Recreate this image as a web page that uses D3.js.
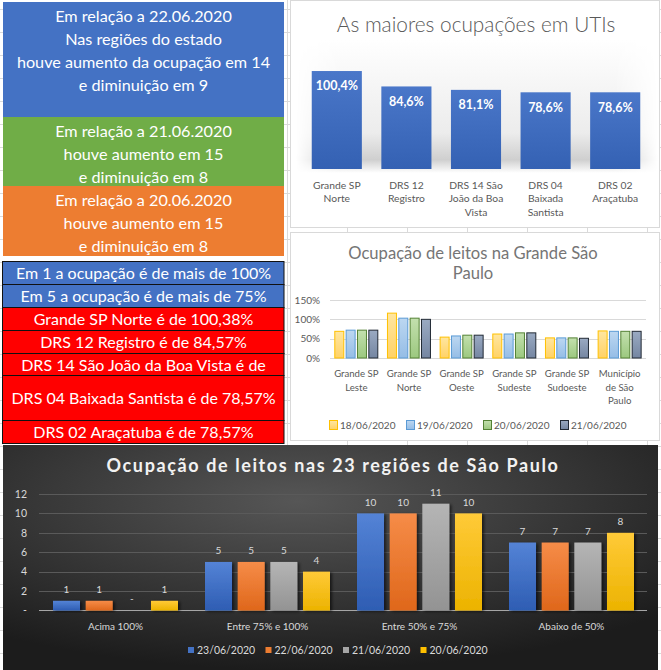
<!DOCTYPE html>
<html>
<head>
<meta charset="utf-8">
<script src="https://cdn.jsdelivr.net/npm/d3@7"></script>
<style>
  body { margin: 0; background: #fff; }
  svg { display: block; font-family: Lato, "Open Sans", sans-serif; }
</style>
</head>
<body>
<svg id="painel"></svg>
<script>
var width = 661,
    height = 670

// textos dos quadros da esquerda
var avisoAzul = ["Em relação a 22.06.2020", "Nas regiões do estado", "houve aumento da ocupação em 14", "e diminuição em 9"];
var avisoVerde = ["Em relação a 21.06.2020", "houve aumento em 15", "e diminuição em 8"];
var avisoLaranja = ["Em relação a 20.06.2020", "houve aumento em 15", "e diminuição em 8"];
var linhasTabela = ["Em 1 a ocupação é de mais de 100%", "Em 5 a ocupação é de mais de 75%",
    "Grande SP Norte é de 100,38%", "DRS 12 Registro é de 84,57%", "DRS 14 São João da Boa Vista é de",
    "DRS 04 Baixada Santista é de 78,57%", "DRS 02 Araçatuba é de 78,57%"];

// maiores ocupações em UTIs
var regioesUti = [["Grande SP", "Norte"], ["DRS 12", "Registro"], ["DRS 14 São", "João da Boa", "Vista"],
    ["DRS 04", "Baixada", "Santista"], ["DRS 02", "Araçatuba"]];
var ocupacaoUti = [100.4, 84.6, 81.1, 78.6, 78.6];
var rotulosUti = ["100,4%", "84,6%", "81,1%", "78,6%", "78,6%"];

// Grande São Paulo
var regioesGsp = [["Grande SP", "Leste"], ["Grande SP", "Norte"], ["Grande SP", "Oeste"],
    ["Grande SP", "Sudeste"], ["Grande SP", "Sudoeste"], ["Município", "de São", "Paulo"]];
var datasGsp = ["18/06/2020", "19/06/2020", "20/06/2020", "21/06/2020"];
var gsp18 = [69, 116, 54, 62, 52, 70];
var gsp19 = [72, 103, 57, 62, 52, 69];
var gsp20 = [72, 103, 59, 65, 52, 69];
var gsp21 = [72, 100, 59, 65, 51, 69];
var ticksGsp = [0, 50, 100, 150];

// 23 regiões
var faixas = ["Acima 100%", "Entre 75% e 100%", "Entre 50% e 75%", "Abaixo de 50%"];
var datasFaixas = ["23/06/2020", "22/06/2020", "21/06/2020", "20/06/2020"];
var f23 = [1, 5, 10, 7];
var f22 = [1, 5, 10, 7];
var f21 = [0, 5, 11, 7];
var f20 = [1, 4, 10, 8];
var ticksFaixas = [0, 2, 4, 6, 8, 10, 12];

var svg = d3.select("svg#painel")
    .attr("width", width)
    .attr("height", height);

var defs = svg.append("defs");

function gradiente(id, topo, base) {
    var g = defs.append("linearGradient").attr("id", id)
        .attr("x1", 0).attr("y1", 0).attr("x2", 0).attr("y2", 1);
    g.append("stop").attr("offset", "0%").attr("stop-color", topo);
    g.append("stop").attr("offset", "100%").attr("stop-color", base);
}

// grade da planilha ao fundo
var grade = svg.append("g").attr("stroke", "#dadada").attr("stroke-width", 1);
d3.range(9, height, 23).forEach(function (y) {
    grade.append("line").attr("x1", 0).attr("x2", width).attr("y1", y + 0.5).attr("y2", y + 0.5);
});
[287, 347, 407, 467, 527, 587, 647].forEach(function (x) {
    grade.append("line").attr("x1", x + 0.5).attr("x2", x + 0.5).attr("y1", 0).attr("y2", height);
});

// ---------- quadros coloridos ----------
function quadro(y0, y1, cor, linhas, primeira) {
    svg.append("rect").attr("x", 3).attr("y", y0).attr("width", 281).attr("height", y1 - y0).attr("fill", cor);
    svg.selectAll(null).data(linhas).enter().append("text")
        .attr("x", 143.5)
        .attr("y", function (d, i) { return primeira + i * 23; })
        .attr("dy", "0.35em")
        .attr("text-anchor", "middle")
        .attr("fill", "#fff")
        .attr("font-size", 16.2)
        .text(function (d) { return d; });
}
quadro(2, 117, "#4472c4", avisoAzul, 16);
quadro(117, 186, "#70ad47", avisoVerde, 131);
quadro(186, 256, "#ed7d31", avisoLaranja, 200);

var limitesTabela = [261, 284, 307, 330, 353, 375, 420, 443];
var coresTabela = ["#4472c4", "#4472c4", "#ff0000", "#ff0000", "#ff0000", "#ff0000", "#ff0000"];
var tabela = svg.append("g");
tabela.selectAll("rect").data(linhasTabela).enter().append("rect")
    .attr("x", 2.5)
    .attr("y", function (d, i) { return limitesTabela[i] + 0.5; })
    .attr("width", 281.5)
    .attr("height", function (d, i) { return limitesTabela[i + 1] - limitesTabela[i]; })
    .attr("fill", function (d, i) { return coresTabela[i]; })
    .attr("stroke", "#111");
tabela.selectAll("text").data(linhasTabela).enter().append("text")
    .attr("x", 143.5)
    .attr("y", function (d, i) { return (limitesTabela[i] + limitesTabela[i + 1]) / 2 + 1; })
    .attr("dy", "0.35em")
    .attr("text-anchor", "middle")
    .attr("fill", "#fff")
    .attr("font-size", 16)
    .text(function (d) { return d; });

// ---------- As maiores ocupações em UTIs ----------
var uti = svg.append("g");
uti.append("rect").attr("x", 290.5).attr("y", 0.5).attr("width", 369).attr("height", 227)
    .attr("fill", "#fff").attr("stroke", "#d9d9d9");

var sombra = defs.append("linearGradient").attr("id", "sombraUti")
    .attr("x1", 0).attr("y1", 0).attr("x2", 0).attr("y2", 1);
sombra.append("stop").attr("offset", "0%").attr("stop-color", "#fff");
sombra.append("stop").attr("offset", "70%").attr("stop-color", "#ececec");
sombra.append("stop").attr("offset", "90%").attr("stop-color", "#cfcfcf");
sombra.append("stop").attr("offset", "100%").attr("stop-color", "#fff");
var fade = defs.append("linearGradient").attr("id", "fadeUti");
fade.append("stop").attr("offset", "0%").attr("stop-color", "#fff").attr("stop-opacity", 0);
fade.append("stop").attr("offset", "12%").attr("stop-color", "#fff").attr("stop-opacity", 1);
fade.append("stop").attr("offset", "88%").attr("stop-color", "#fff").attr("stop-opacity", 1);
fade.append("stop").attr("offset", "100%").attr("stop-color", "#fff").attr("stop-opacity", 0);
defs.append("mask").attr("id", "mascaraUti")
    .append("rect").attr("x", 296).attr("y", 40).attr("width", 362).attr("height", 135).attr("fill", "url(#fadeUti)");
uti.append("rect").attr("x", 296).attr("y", 40).attr("width", 362).attr("height", 133)
    .attr("fill", "url(#sombraUti)").attr("mask", "url(#mascaraUti)");

uti.append("text").attr("x", 476).attr("y", 25).attr("dy", "0.35em")
    .attr("text-anchor", "middle").attr("fill", "#595959").attr("font-size", 20.8).attr("font-weight", 300)
    .text("As maiores ocupações em UTIs");

gradiente("azulUti", "#4a77c9", "#3461b3");
var xUti = d3.scaleBand().domain(d3.range(ocupacaoUti.length)).range([302, 650])
    .paddingInner(0.28).paddingOuter(0.14);
var yUti = d3.scaleLinear().domain([0, 120]).range([169, 51.9]);

uti.selectAll("rect.barra").data(ocupacaoUti).enter().append("rect")
    .attr("class", "barra")
    .attr("x", function (d, i) { return xUti(i); })
    .attr("y", function (d) { return yUti(d); })
    .attr("width", xUti.bandwidth())
    .attr("height", function (d) { return yUti(0) - yUti(d); })
    .attr("fill", "url(#azulUti)");
uti.selectAll("text.rotulo").data(ocupacaoUti).enter().append("text")
    .attr("class", "rotulo")
    .attr("x", function (d, i) { return xUti(i) + xUti.bandwidth() / 2; })
    .attr("y", function (d) { return yUti(d) + 15; })
    .attr("dy", "0.35em")
    .attr("text-anchor", "middle").attr("fill", "#fff")
    .attr("font-size", 12.5).attr("font-weight", "bold")
    .text(function (d, i) { return rotulosUti[i]; });
var catUti = uti.selectAll("text.cat").data(regioesUti).enter().append("text")
    .attr("class", "cat")
    .attr("text-anchor", "middle").attr("fill", "#595959").attr("font-size", 10.3);
catUti.selectAll("tspan").data(function (d, i) { return d.map(function (t) { return { t: t, i: i }; }); })
    .enter().append("tspan")
    .attr("x", function (d) { return xUti(d.i) + xUti.bandwidth() / 2; })
    .attr("y", function (d, j) { return 185 + j * 13.5; })
    .attr("dy", "0.35em")
    .text(function (d) { return d.t; });

// ---------- Ocupação de leitos na Grande São Paulo ----------
var gsp = svg.append("g");
gsp.append("rect").attr("x", 290.5).attr("y", 232.5).attr("width", 369).attr("height", 208)
    .attr("fill", "#fff").attr("stroke", "#d9d9d9");
gsp.append("text").attr("text-anchor", "middle").attr("fill", "#757575").attr("font-size", 16.6)
    .selectAll("tspan").data(["Ocupação de leitos na Grande São", "Paulo"]).enter().append("tspan")
    .attr("x", 473).attr("y", function (d, i) { return 253 + i * 20; }).attr("dy", "0.35em")
    .text(function (d) { return d; });

var yGsp = d3.scaleLinear().domain([0, 150]).range([358, 300]);
var x0Gsp = d3.scaleBand().domain(d3.range(regioesGsp.length)).range([330, 646]);
var x1Gsp = d3.scaleBand().domain(d3.range(datasGsp.length)).range([4.3, 48.3]).paddingInner(0.12);

gsp.append("g").selectAll("line").data(ticksGsp).enter().append("line")
    .attr("x1", 330).attr("x2", 646)
    .attr("y1", function (d) { return Math.round(yGsp(d)) + 0.5; })
    .attr("y2", function (d) { return Math.round(yGsp(d)) + 0.5; })
    .attr("stroke", "#d9d9d9");
gsp.append("g").selectAll("text").data(ticksGsp).enter().append("text")
    .attr("x", 320).attr("y", function (d) { return yGsp(d); }).attr("dy", "0.35em")
    .attr("text-anchor", "end").attr("fill", "#595959").attr("font-size", 10)
    .text(function (d) { return d + "%"; });

var seriesGsp = [gsp18, gsp19, gsp20, gsp21];
var preenchGsp = [["#ffe6a0", "#ffd266"], ["#bcd7f1", "#95bde6"], ["#c3e0ae", "#9cc87f"], ["#9aaac2", "#7586a2"]];
var bordaGsp = ["#ffc000", "#5b9bd5", "#548235", "#222a35"];
preenchGsp.forEach(function (c, k) { gradiente("gsp" + k, c[0], c[1]); });

var grupos = gsp.selectAll("g.grupo").data(regioesGsp).enter().append("g")
    .attr("class", "grupo")
    .attr("transform", function (d, i) { return "translate(" + x0Gsp(i) + ",0)"; });
grupos.selectAll("rect").data(function (d, i) { return seriesGsp.map(function (s, k) { return { v: s[i], k: k }; }); })
    .enter().append("rect")
    .attr("x", function (d) { return x1Gsp(d.k) + 0.5; })
    .attr("y", function (d) { return yGsp(d.v); })
    .attr("width", x1Gsp.bandwidth() - 1)
    .attr("height", function (d) { return yGsp(0) - yGsp(d.v); })
    .attr("fill", function (d) { return "url(#gsp" + d.k + ")"; })
    .attr("stroke", function (d) { return bordaGsp[d.k]; });

var catGsp = gsp.selectAll("text.cat").data(regioesGsp).enter().append("text")
    .attr("class", "cat").attr("text-anchor", "middle").attr("fill", "#595959").attr("font-size", 9.6);
catGsp.selectAll("tspan").data(function (d, i) { return d.map(function (t) { return { t: t, i: i }; }); })
    .enter().append("tspan")
    .attr("x", function (d) { return x0Gsp(d.i) + x0Gsp.bandwidth() / 2; })
    .attr("y", function (d, j) { return 374 + j * 13.5; })
    .attr("dy", "0.35em")
    .text(function (d) { return d.t; });

var legGsp = gsp.selectAll("g.leg").data(datasGsp).enter().append("g")
    .attr("class", "leg")
    .attr("transform", function (d, i) { return "translate(" + (329 + i * 77) + ",425)"; });
legGsp.append("rect").attr("x", 0.5).attr("y", -4.5).attr("width", 8).attr("height", 9)
    .attr("fill", function (d, i) { return "url(#gsp" + i + ")"; })
    .attr("stroke", function (d, i) { return bordaGsp[i]; });
legGsp.append("text").attr("x", 11).attr("dy", "0.35em").attr("fill", "#595959").attr("font-size", 10)
    .text(function (d) { return d; });

// ---------- Ocupação de leitos nas 23 regiões ----------
var reg = svg.append("g");
var fundo = defs.append("radialGradient").attr("id", "fundoEscuro")
    .attr("cx", "45%").attr("cy", "25%").attr("r", "75%");
fundo.append("stop").attr("offset", "0%").attr("stop-color", "#565656");
fundo.append("stop").attr("offset", "100%").attr("stop-color", "#1c1c1c");
reg.append("rect").attr("x", 3).attr("y", 445).attr("width", 655).attr("height", 225)
    .attr("fill", "url(#fundoEscuro)");

reg.append("text").attr("x", 333).attr("y", 466).attr("dy", "0.35em")
    .attr("text-anchor", "middle").attr("fill", "#f2f2f2")
    .attr("font-size", 18).attr("font-weight", "bold").attr("letter-spacing", 1.6)
    .text("Ocupação de leitos nas 23 regiões de Sâo Paulo");

var yReg = d3.scaleLinear().domain([0, 12]).range([610.5, 494]);
var x0Reg = d3.scaleBand().domain(d3.range(faixas.length)).range([39.5, 647.5]);
var x1Reg = d3.scaleBand().domain(d3.range(datasFaixas.length)).range([13.5, 138.5]).paddingInner(0.173);

reg.append("g").selectAll("line").data(ticksFaixas.slice(1)).enter().append("line")
    .attr("x1", 39).attr("x2", 647)
    .attr("y1", function (d) { return Math.round(yReg(d)) + 0.5; })
    .attr("y2", function (d) { return Math.round(yReg(d)) + 0.5; })
    .attr("stroke", "#5a5a5a");
reg.append("line").attr("x1", 39).attr("x2", 647).attr("y1", 610.5).attr("y2", 610.5).attr("stroke", "#a6a6a6");
reg.append("g").selectAll("text").data(ticksFaixas).enter().append("text")
    .attr("x", 27).attr("y", function (d) { return yReg(d); }).attr("dy", "0.35em")
    .attr("text-anchor", "end").attr("fill", "#d9d9d9").attr("font-size", 10.5)
    .text(function (d) { return d === 0 ? "-" : d; });

var seriesReg = [f23, f22, f21, f20];
var coresReg = [["#5483d6", "#2e5db3"], ["#f68c48", "#df671b"], ["#b5b5b5", "#939393"], ["#ffca38", "#ecb300"]];
var legCores = ["#4472c4", "#ed7d31", "#a5a5a5", "#ffc000"];
coresReg.forEach(function (c, k) { gradiente("reg" + k, c[0], c[1]); });
defs.append("filter").attr("id", "sombraBarra").attr("x", "-20%").attr("y", "-10%").attr("width", "150%").attr("height", "130%")
    .append("feDropShadow").attr("dx", 2).attr("dy", 1).attr("stdDeviation", 1.5)
    .attr("flood-color", "#000").attr("flood-opacity", 0.6);

var gruposReg = reg.selectAll("g.grupo").data(faixas).enter().append("g")
    .attr("class", "grupo")
    .attr("transform", function (d, i) { return "translate(" + x0Reg(i) + ",0)"; });
var itens = gruposReg.selectAll("g").data(function (d, i) { return seriesReg.map(function (s, k) { return { v: s[i], k: k }; }); })
    .enter().append("g");
itens.append("rect")
    .attr("x", function (d) { return x1Reg(d.k); })
    .attr("y", function (d) { return yReg(d.v); })
    .attr("width", x1Reg.bandwidth())
    .attr("height", function (d) { return yReg(0) - yReg(d.v); })
    .attr("fill", function (d) { return "url(#reg" + d.k + ")"; })
    .attr("filter", "url(#sombraBarra)");
itens.append("text")
    .attr("x", function (d) { return x1Reg(d.k) + x1Reg.bandwidth() / 2; })
    .attr("y", function (d) { return yReg(d.v) - (d.v === 0 ? 12 : 11); })
    .attr("dy", "0.35em")
    .attr("text-anchor", "middle").attr("fill", "#d9d9d9").attr("font-size", 10)
    .text(function (d) { return d.v === 0 ? "-" : d.v; });

reg.selectAll("text.cat").data(faixas).enter().append("text")
    .attr("class", "cat")
    .attr("x", function (d, i) { return x0Reg(i) + x0Reg.bandwidth() / 2; })
    .attr("y", 626).attr("dy", "0.35em")
    .attr("text-anchor", "middle").attr("fill", "#d9d9d9").attr("font-size", 10)
    .text(function (d) { return d; });

var legReg = reg.selectAll("g.leg").data(datasFaixas).enter().append("g")
    .attr("class", "leg")
    .attr("transform", function (d, i) { return "translate(" + (188 + i * 77.5) + ",650)"; });
legReg.append("rect").attr("y", -3).attr("width", 6).attr("height", 6)
    .attr("fill", function (d, i) { return legCores[i]; });
legReg.append("text").attr("x", 9).attr("dy", "0.35em").attr("fill", "#d9d9d9").attr("font-size", 10.5)
    .text(function (d) { return d; });
</script>
</body>
</html>
